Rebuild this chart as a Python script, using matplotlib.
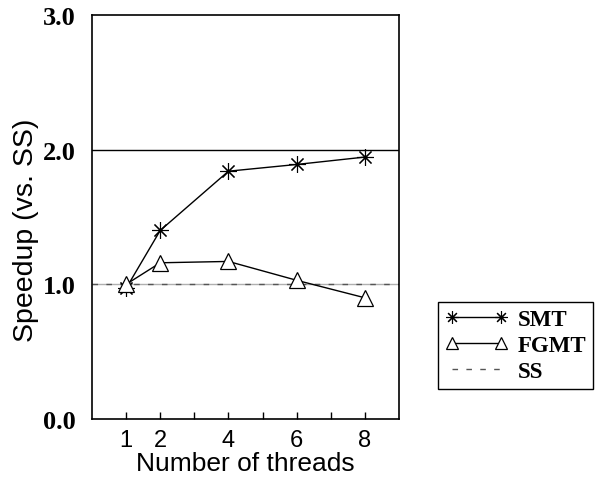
import numpy as np
import matplotlib.pyplot as plt

threads = [1, 2, 4, 6, 8]
smt = [0.97, 1.40, 1.84, 1.89, 1.945]
fgmt = [1.00, 1.16, 1.17, 1.03, 0.90]
ss_x = [0, 9]
ss = [1.0, 1.0]

xtick_pos = [1, 2, 3, 4, 5, 6, 7, 8]
xtick_lab = ['1', '2', '', '4', '', '6', '', '8']
ytick_pos = [0, 1, 2, 3]
ytick_lab = ['0.0', '1.0', '2.0', '3.0']

fig = plt.figure(figsize=(5.95, 4.81), dpi=100)
ax = fig.add_axes([0.1546, 0.1268, 0.516, 0.84])

# grid lines
ax.axhline(2.0, color='black', lw=1.0, zorder=1)
ax.axhline(1.0, color='#b0b0b0', lw=1.0, zorder=1)

l3, = ax.plot(ss_x, ss, color='#555555', lw=1.0, ls=(0, (4, 6)), label='SS', zorder=2)
l1, = ax.plot(threads, smt, color='black', lw=1.0, marker=(8, 2, 0), ms=12,
              mew=0.8, label='SMT', zorder=3)
l2, = ax.plot(threads, fgmt, color='black', lw=1.0, marker='^', ms=11,
              mfc='white', mec='black', mew=0.9, label='FGMT', zorder=3)

ax.set_xlim(0, 9)
ax.set_ylim(0, 3)
ax.set_xticks(xtick_pos)
ax.set_xticklabels(xtick_lab, family='Liberation Sans', fontsize=17)
ax.set_yticks(ytick_pos)
ax.set_yticklabels(ytick_lab, family='Liberation Serif', fontweight='bold', fontsize=19)
ax.tick_params(axis='x', direction='in', length=5, width=1, pad=7)
ax.tick_params(axis='y', length=0, pad=11.5)
for s in ax.spines.values():
    s.set_linewidth(1.2)

ax.set_xlabel('Number of threads', family='Liberation Sans', fontsize=19, labelpad=0)
ax.set_ylabel('Speedup (vs. SS)', family='Liberation Sans', fontsize=20.5)
ax.yaxis.set_label_coords(-0.172, 0.47)

leg = fig.legend([l1, l2, l3], ['SMT', 'FGMT', 'SS'],
                 loc='upper left', bbox_to_anchor=(0.736, 0.370),
                 borderaxespad=0, numpoints=2, handlelength=2.75,
                 handletextpad=0.42, borderpad=0.3, labelspacing=0.22,
                 fancybox=False, edgecolor='black', framealpha=1,
                 prop={'family': 'Liberation Serif', 'weight': 'bold', 'size': 16.5})
leg.get_frame().set_linewidth(1.0)
for h in leg.legend_handles[:2]:
    h.set_markersize(9)

fig.savefig('out.png', dpi=100)
